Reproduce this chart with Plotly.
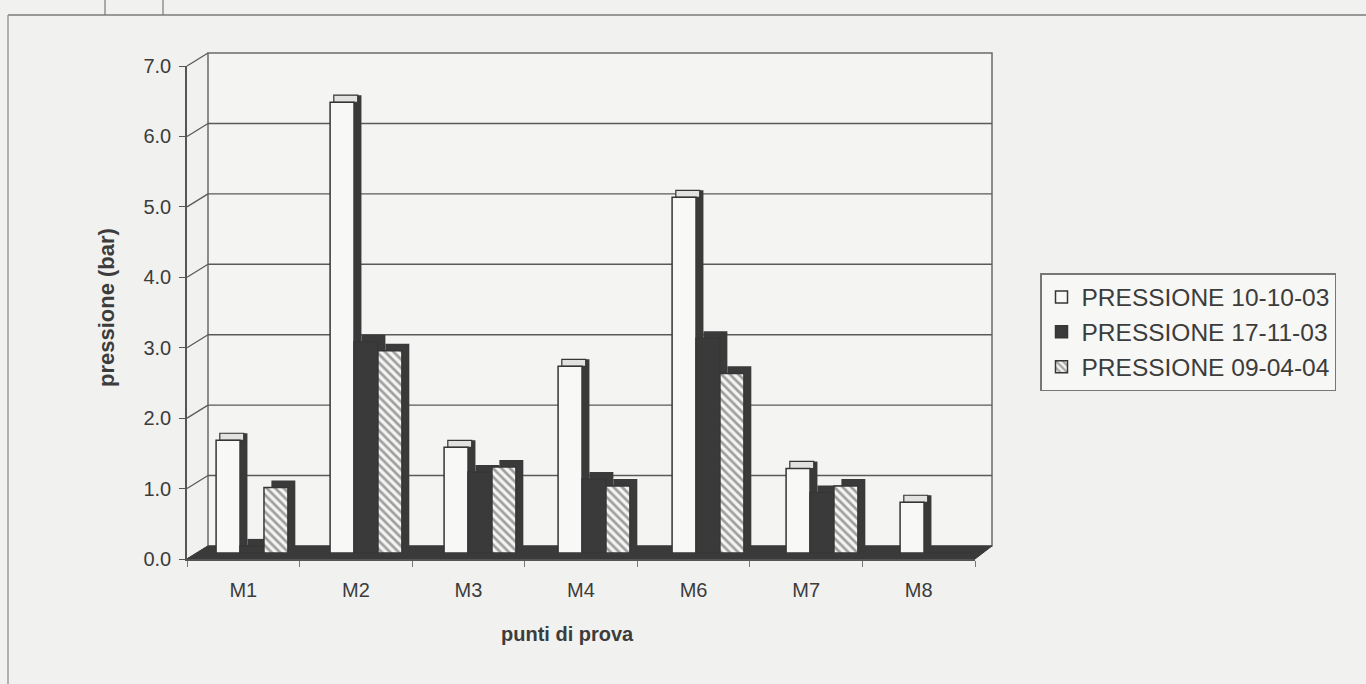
import plotly.graph_objects as go

# Measuring points and recorded pressures (bar)
punti = ["M1", "M2", "M3", "M4", "M6", "M7", "M8"]
serie = ["PRESSIONE 10-10-03", "PRESSIONE 17-11-03", "PRESSIONE 09-04-04"]
p_101003 = [1.6, 6.4, 1.5, 2.65, 5.05, 1.2, 0.72]
p_171103 = [0.1, 3.0, 1.15, 1.05, 3.05, 0.86, 0.0]
p_090404 = [0.93, 2.87, 1.22, 0.95, 2.55, 0.95, 0.0]
y_ticks = [0, 1, 2, 3, 4, 5, 6, 7]

W, H = 1366, 684
YMAX = 7.0

# pseudo-3D geometry (pixels)
FRONT = dict(x0=187, x1=975, y0=559, y7=66)     # front axis plane
BACK = dict(x0=208, x1=992, y0=546, y7=53)      # back wall
BARS = dict(x0=195, x1=993, y0=553, y7=60)      # plane of the bar faces

BG = "#f1f1ef"
WALL = "#f4f4f2"
DARK = "#363636"
GRID = "#5a5a5a"
TXT = "#3c3c3c"
FONT = "Liberation Sans, Arial, sans-serif"


def px(xp):
    return xp / W


def py(yp):
    return 1 - yp / H


def y_on(plane, v):
    """pixel row of value v on a given plane"""
    return plane["y0"] + (plane["y7"] - plane["y0"]) * v / YMAX


x = list(range(len(punti)))
bw = 0.21            # bar width in category units
dx = 0.065           # depth shift to the right (category units)
dy = 0.10            # depth shift upward (bar)

styles = [
    dict(color="#f8f8f6", line=dict(color=DARK, width=1.5)),
    dict(color="#3a3a3a", line=dict(color=DARK, width=1.5)),
    dict(color="#f4f4f2", line=dict(color=DARK, width=1.5),
         pattern=dict(shape="\\", fgcolor="#4a4a4a", bgcolor="#f4f4f2",
                      size=6, solidity=0.45)),
]
values = [p_101003, p_171103, p_090404]
offsets = [-1.5 * bw, -0.5 * bw, 0.5 * bw]

fig = go.Figure()

# side / top faces giving the bars depth
for vals, off in zip(values, offsets):
    fig.add_trace(go.Bar(
        x=x, y=[v + dy for v in vals], offset=off + dx, width=bw,
        marker=dict(color="#3a3a3a", line=dict(width=0)),
        showlegend=False, hoverinfo="skip"))

# light top face of the white bars
fig.add_trace(go.Bar(
    x=x, y=[dy] * len(x), base=p_101003, offset=offsets[0] + dx / 2, width=bw,
    marker=dict(color="#e2e2e0", line=dict(color=DARK, width=1.2)),
    showlegend=False, hoverinfo="skip"))

# front faces
for name, vals, off, st in zip(serie, values, offsets, styles):
    fig.add_trace(go.Bar(
        x=x, y=vals, offset=off, width=bw, name=name, marker=st))

# front category axis / value axis (no data of their own)
fig.add_trace(go.Scatter(x=[], y=[], xaxis="x2", yaxis="y3",
                         showlegend=False, hoverinfo="skip"))

shapes = []
# back wall with its gridlines
shapes.append(dict(type="rect", xref="paper", yref="paper",
                   x0=px(BACK["x0"]), x1=px(BACK["x1"]),
                   y0=py(BACK["y0"]), y1=py(BACK["y7"]),
                   fillcolor=WALL, line=dict(color="#6a6a6a", width=1.5),
                   layer="below"))
for v in y_ticks[1:-1]:
    shapes.append(dict(type="line", xref="paper", yref="paper",
                       x0=px(BACK["x0"]), x1=px(BACK["x1"]),
                       y0=py(y_on(BACK, v)), y1=py(y_on(BACK, v)),
                       line=dict(color=GRID, width=1.4), layer="below"))
# left wall: connectors from the front ticks to the back wall
for v in y_ticks:
    shapes.append(dict(type="line", xref="paper", yref="paper",
                       x0=px(FRONT["x0"]), x1=px(BACK["x0"]),
                       y0=py(y_on(FRONT, v)), y1=py(y_on(BACK, v)),
                       line=dict(color=GRID, width=1.3), layer="below"))
# dark floor
shapes.append(dict(
    type="path", xref="paper", yref="paper",
    path=(f"M {px(FRONT['x0'])} {py(FRONT['y0'])} "
          f"L {px(FRONT['x1'])} {py(FRONT['y0'])} "
          f"L {px(BACK['x1'])} {py(BACK['y0'])} "
          f"L {px(BACK['x0'])} {py(BACK['y0'])} Z"),
    fillcolor="#3a3a3a", line=dict(color="#3a3a3a", width=1), layer="below"))
# page frame lines
shapes += [
    dict(type="line", xref="paper", yref="paper", x0=px(8), x1=1.0,
         y0=py(15), y1=py(15), line=dict(color="#7a7a7a", width=1.5)),
    dict(type="line", xref="paper", yref="paper", x0=px(8), x1=px(8),
         y0=0, y1=py(15), line=dict(color="#9a9a9a", width=1.5)),
    dict(type="line", xref="paper", yref="paper", x0=px(105), x1=px(105),
         y0=py(15), y1=1, line=dict(color="#7a7a7a", width=1.2)),
    dict(type="line", xref="paper", yref="paper", x0=px(163), x1=px(163),
         y0=py(15), y1=1, line=dict(color="#7a7a7a", width=1.2)),
]

fig.update_layout(
    width=W, height=H,
    margin=dict(l=0, r=0, t=0, b=0),
    paper_bgcolor=BG, plot_bgcolor="rgba(0,0,0,0)",
    barmode="overlay",
    font=dict(family=FONT, size=20, color=TXT),
    shapes=shapes,
    # plane of the bars
    xaxis=dict(domain=[px(BARS["x0"]), px(BARS["x1"])], range=[-0.5, 6.5],
               visible=False, automargin=False, anchor="y"),
    yaxis=dict(domain=[py(BARS["y0"]), py(BARS["y7"])], range=[0, YMAX],
               visible=False, automargin=False, anchor="x"),
    # front axes carrying labels
    xaxis2=dict(
        domain=[px(FRONT["x0"]), px(FRONT["x1"])], range=[-0.5, 6.5],
        anchor="y3", tickvals=x, ticktext=punti, ticks="", showgrid=False,
        showline=True, linecolor="#555", linewidth=1.5, zeroline=False,
        ticklabelstandoff=12, automargin=False,
        minor=dict(tick0=0.5, dtick=1, ticks="outside", ticklen=6,
                   tickcolor="#777", showgrid=False),
        tickfont=dict(size=20, color=TXT),
    ),
    yaxis3=dict(
        domain=[py(FRONT["y0"]), py(FRONT["y7"])], range=[0, YMAX],
        anchor="x2", tickvals=y_ticks, tickformat=".1f", ticks="outside",
        ticklen=6, tickcolor="#555", showline=True, linecolor="#555",
        linewidth=1.5, showgrid=False, zeroline=False, automargin=False,
        ticklabelstandoff=4, tickfont=dict(size=20, color=TXT),
    ),
    legend=dict(
        x=px(1040), y=py(273), xanchor="left", yanchor="top",
        bgcolor="#f7f7f5", bordercolor="#777", borderwidth=1.5,
        font=dict(size=24.5, color=TXT), itemwidth=30, tracegroupgap=0,
    ),
    annotations=[
        dict(text="<b>pressione (bar)</b>", xref="paper", yref="paper",
             x=px(107), y=py(308), xanchor="center", yanchor="middle",
             textangle=-90, showarrow=False,
             font=dict(size=22, color=TXT)),
        dict(text="<b>punti di prova</b>", xref="paper", yref="paper",
             x=px(567), y=py(634), xanchor="center", yanchor="middle",
             showarrow=False, font=dict(size=20, color=TXT)),
    ],
)

fig.write_html("out.html")
